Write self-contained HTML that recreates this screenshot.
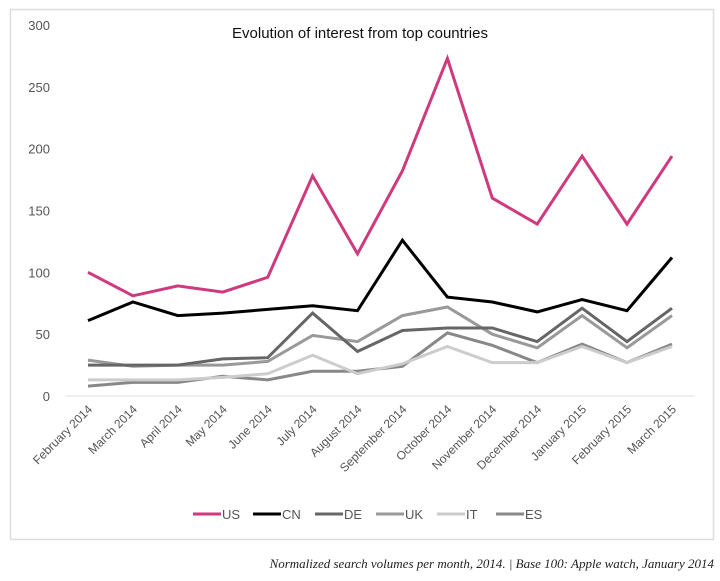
<!DOCTYPE html>
<html><head><meta charset="utf-8"><style>
body{margin:0;background:#fff;width:720px;height:576px;overflow:hidden}
svg text{font-family:"Liberation Sans",sans-serif}
</style></head><body>
<svg width="720" height="576" xmlns="http://www.w3.org/2000/svg">
<rect x="10.5" y="9.5" width="703" height="530" fill="none" stroke="#ddd" stroke-width="1.5"/>
<text x="360" y="38" text-anchor="middle" font-size="15" fill="#111">Evolution of interest from top countries</text>
<g font-size="13" fill="#555" text-anchor="end" id="yl"></g>
<line x1="66" y1="396" x2="694" y2="396" stroke="#ddd" stroke-width="1"/>
<text x="714" y="568" text-anchor="end" font-size="13" font-style="italic" fill="#222" style="font-family:'Liberation Serif',serif">Normalized search volumes per month, 2014.  |  Base 100: Apple watch, January 2014</text>
<script>
var s=document.querySelector('svg');
var NS="http://www.w3.org/2000/svg";
function Y(v){return 396-v*1.2367}
function X(i){return 88+i*44.92}
var yl=document.getElementById('yl');
[0,50,100,150,200,250,300].forEach(function(v){
  var t=document.createElementNS(NS,'text');t.setAttribute('x',50);t.setAttribute('y',Y(v)+5);t.textContent=v;yl.appendChild(t);
});
var data=[
["US","#cf3a7e",[100,81,89,84,96,178,115,182,273,160,139,194,139,194]],
["CN","#000",[61,76,65,67,70,73,69,126,80,76,68,78,69,112]],
["DE","#666",[25,25,25,30,31,67,36,53,55,55,44,71,44,71]],
["UK","#999",[29,24,25,25,28,49,44,65,72,50,39,65,39,65]],
["IT","#ccc",[13,13,13,15,18,33,18,26,40,27,27,40,27,40]],
["ES","#888",[8,11,11,16,13,20,20,24,51,41,27,42,27,42]]];
for(var k=data.length-1;k>=0;k--){
  var d=data[k],p=d[2].map(function(v,i){return X(i).toFixed(1)+','+Y(v).toFixed(1)}).join(' ');
  var pl=document.createElementNS(NS,'polyline');pl.setAttribute('points',p);pl.setAttribute('fill','none');
  pl.setAttribute('stroke',d[1]);pl.setAttribute('stroke-width','3');s.appendChild(pl);
}
var months=["February 2014","March 2014","April 2014","May 2014","June 2014","July 2014","August 2014","September 2014","October 2014","November 2014","December 2014","January 2015","February 2015","March 2015"];
months.forEach(function(m,i){
  var x=X(i)+5,y=410;
  var t=document.createElementNS(NS,'text');t.setAttribute('x',x);t.setAttribute('y',y);
  t.setAttribute('text-anchor','end');t.setAttribute('font-size','12');t.setAttribute('fill','#555');
  t.setAttribute('transform','rotate(-45 '+x+' '+y+')');t.textContent=m;s.appendChild(t);
});
var lx=[193,253,315,376,437,496];
data.forEach(function(d,i){
  var l=document.createElementNS(NS,'line');l.setAttribute('x1',lx[i]);l.setAttribute('x2',lx[i]+28);l.setAttribute('y1',514);l.setAttribute('y2',514);
  l.setAttribute('stroke',d[1]);l.setAttribute('stroke-width','3');s.appendChild(l);
  var t=document.createElementNS(NS,'text');t.setAttribute('x',lx[i]+29);t.setAttribute('y',519);t.setAttribute('font-size','13');t.setAttribute('fill','#555');t.textContent=d[0];s.appendChild(t);
});
</script>
</svg>
</body></html>
